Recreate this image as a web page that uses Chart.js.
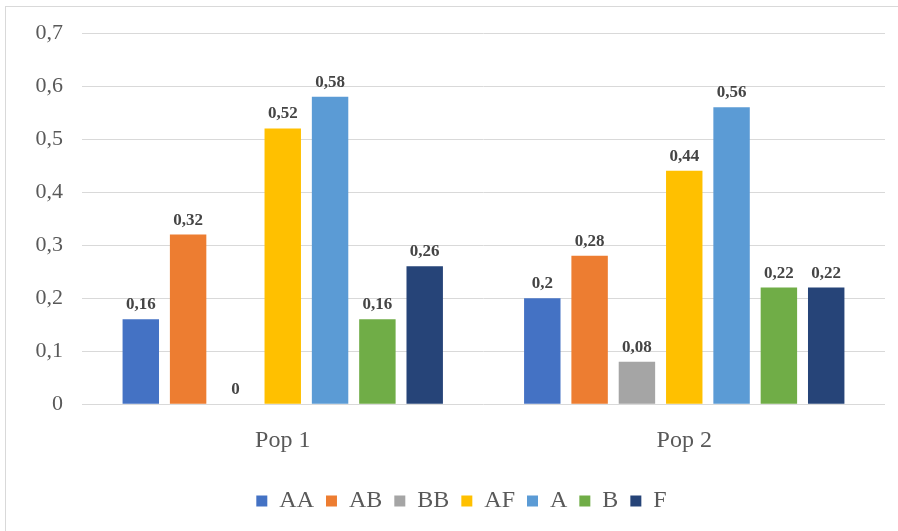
<!DOCTYPE html>
<html>
<head>
<meta charset="utf-8">
<script src="https://cdn.jsdelivr.net/npm/chart.js@4"></script>
<style>
  html, body { margin: 0; padding: 0; background: #ffffff; overflow: hidden; }
  #frame { position: absolute; left: 5px; top: 6px; width: 1000px; height: 1000px; border: 1px solid #d9d9d9; box-sizing: border-box; }
  #wrap { position: absolute; left: 0; top: 0; width: 898px; height: 531px; }
</style>
</head>
<body>
<div id="frame"></div>
<div id="wrap"><canvas id="chart" width="898" height="531"></canvas></div>
<script>
// Genotype / allele frequencies per population
const categories = ['Pop 1', 'Pop 2'];
const seriesNames = ['AA', 'AB', 'BB', 'AF', 'A', 'B', 'F'];
const seriesColors = ['#4472C4', '#ED7D31', '#A5A5A5', '#FFC000', '#5B9BD5', '#70AD47', '#264478'];
const valuesAA = [0.16, 0.2];
const valuesAB = [0.32, 0.28];
const valuesBB = [0, 0.08];
const valuesAF = [0.52, 0.44];
const valuesA  = [0.58, 0.56];
const valuesB  = [0.16, 0.22];
const valuesF  = [0.26, 0.22];
const yTicks = [0, 0.1, 0.2, 0.3, 0.4, 0.5, 0.6, 0.7];

const seriesValues = [valuesAA, valuesAB, valuesBB, valuesAF, valuesA, valuesB, valuesF];
const fmt = v => String(v).replace('.', ',');
const FONT = '"Liberation Serif", "DejaVu Serif", serif';

// Draws each bar's value just above it
const valueLabels = {
  id: 'valueLabels',
  afterDatasetsDraw(chart) {
    const ctx = chart.ctx;
    ctx.save();
    ctx.font = 'bold 17px ' + FONT;
    ctx.fillStyle = '#454545';
    ctx.textAlign = 'center';
    ctx.textBaseline = 'alphabetic';
    chart.data.datasets.forEach((ds, i) => {
      chart.getDatasetMeta(i).data.forEach((bar, j) => {
        ctx.fillText(fmt(ds.data[j]), bar.x, bar.y - 10);
      });
    });
    ctx.restore();
  }
};

// Nudges the legend row a little to the right of the canvas centre
const legendShift = {
  id: 'legendShift',
  afterLayout(chart) {
    if (chart.legend) {
      chart.legend.left += 19;
      chart.legend.right += 19;
    }
  }
};

new Chart(document.getElementById('chart'), {
  type: 'bar',
  data: {
    labels: categories,
    datasets: seriesNames.map((name, i) => ({
      label: name,
      data: seriesValues[i],
      backgroundColor: seriesColors[i],
      borderWidth: 0,
      categoryPercentage: 0.825,
      barPercentage: 0.77
    }))
  },
  options: {
    responsive: false,
    animation: false,
    layout: { padding: { left: 0, right: 13, top: 33, bottom: 8 } },
    plugins: {
      tooltip: { enabled: false },
      legend: {
        position: 'bottom',
        labels: {
          boxWidth: 11,
          boxHeight: 11,
          padding: 12,
          color: '#595959',
          font: { family: FONT, size: 24 }
        }
      }
    },
    scales: {
      x: {
        grid: { display: false, drawTicks: false },
        border: { display: false },
        ticks: { color: '#595959', font: { family: FONT, size: 24 }, padding: 22 }
      },
      y: {
        min: 0,
        max: 0.7,
        afterFit(scale) { scale.width = 82; },
        afterBuildTicks(scale) { scale.ticks = yTicks.map(v => ({ value: v })); },
        grid: { color: '#d9d9d9', lineWidth: 1, drawTicks: false },
        border: { display: false },
        ticks: {
          color: '#595959',
          font: { family: FONT, size: 22 },
          padding: 19,
          callback: v => fmt(Math.round(v * 10) / 10)
        }
      }
    }
  },
  plugins: [valueLabels, legendShift]
});
</script>
</body>
</html>
